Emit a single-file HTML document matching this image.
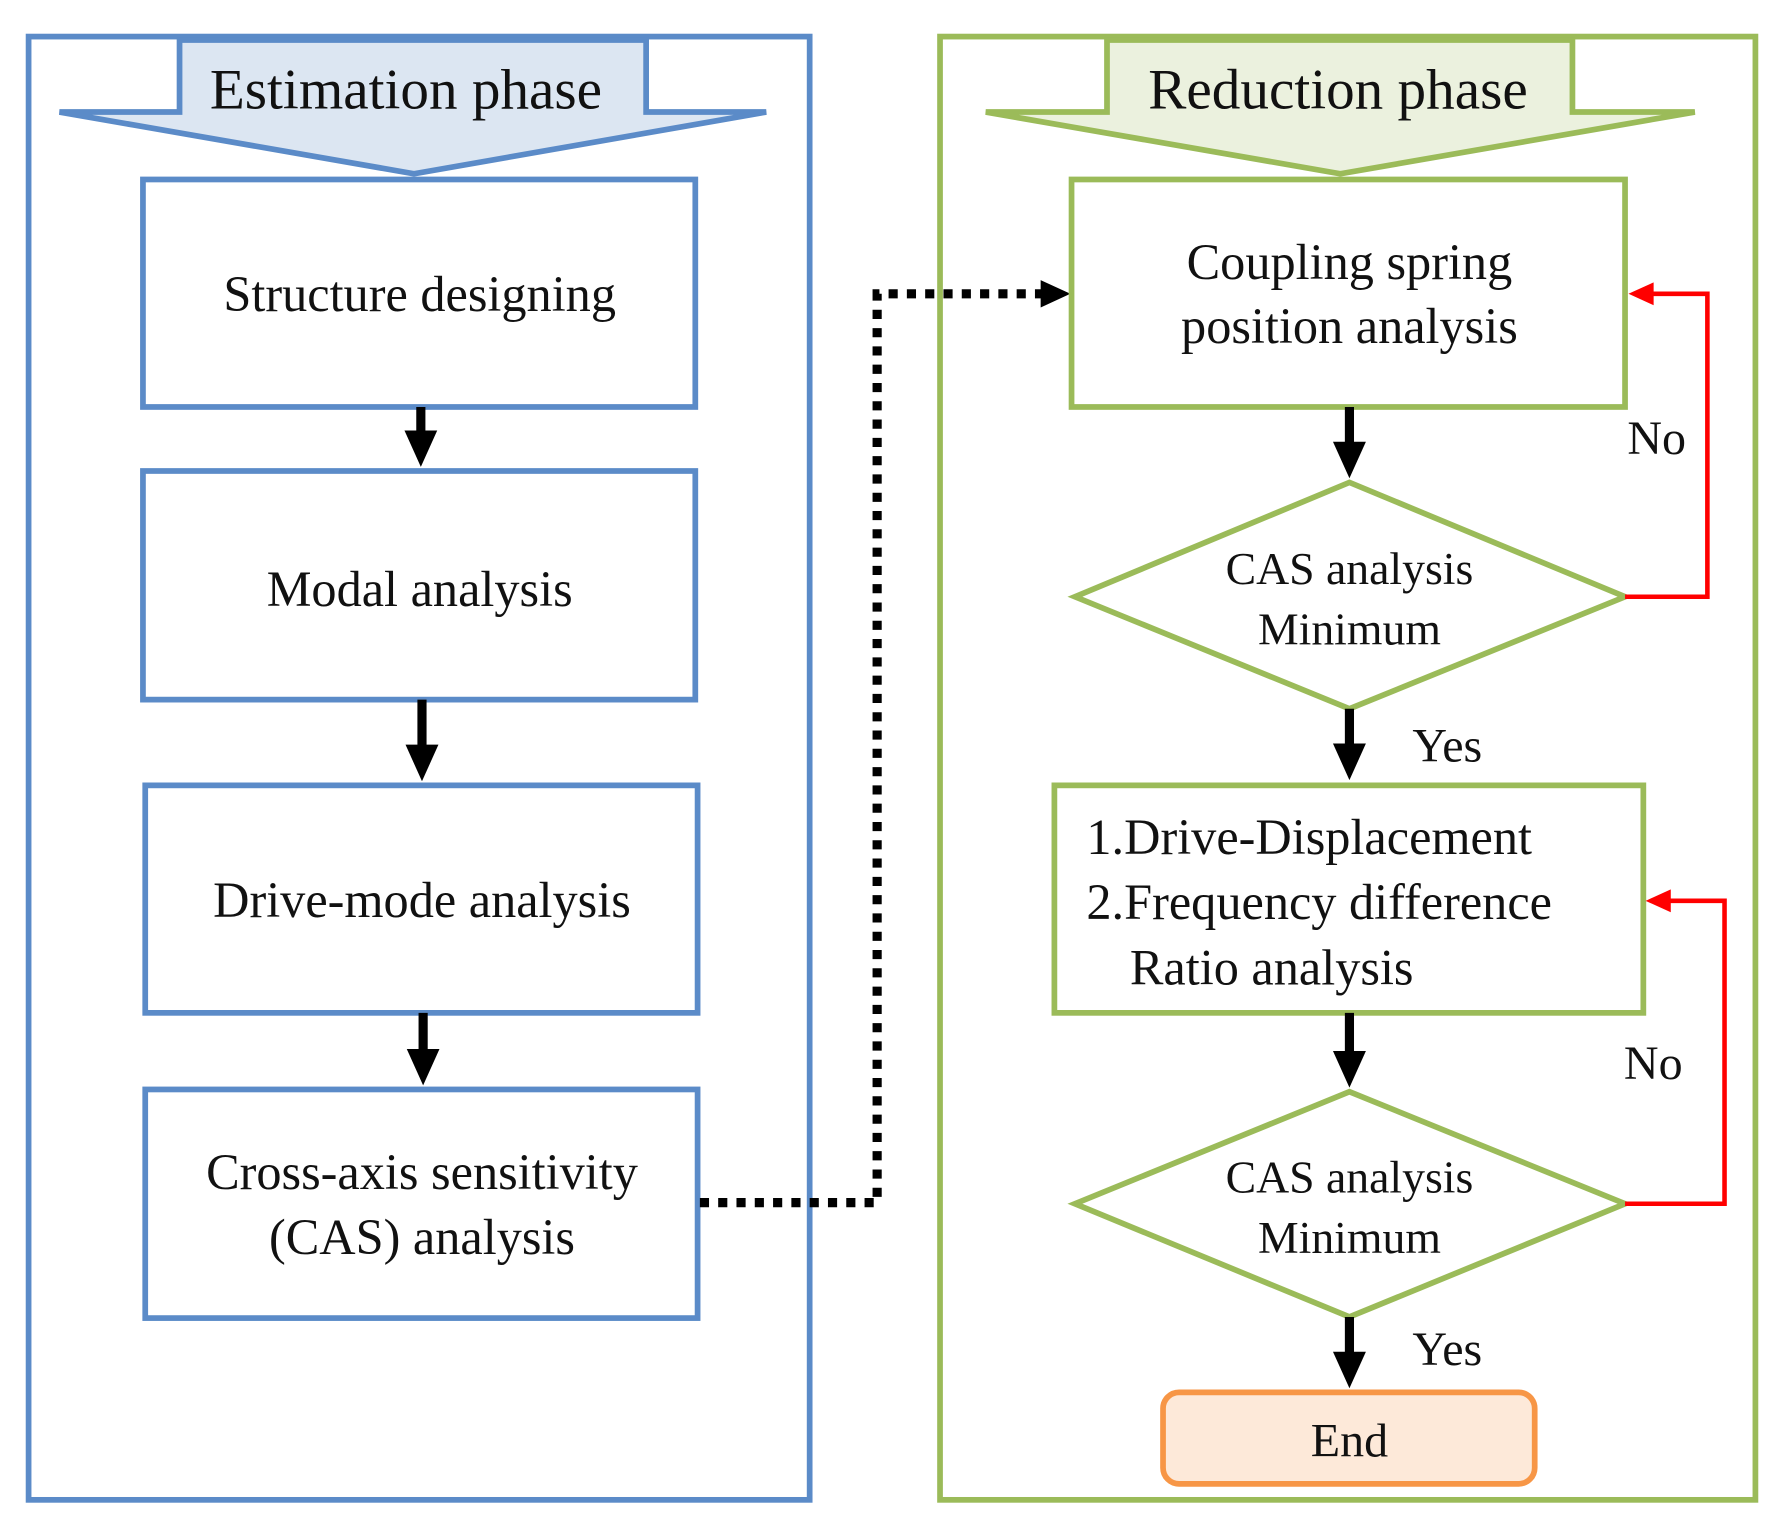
<!DOCTYPE html>
<html><head><meta charset="utf-8"><style>
html,body{margin:0;padding:0;background:#fff;}
svg{display:block;}
text{font-family:"Liberation Serif",serif;fill:#111;}
</style></head><body>
<svg width="1784" height="1525" viewBox="0 0 1560 1334" preserveAspectRatio="none" xmlns="http://www.w3.org/2000/svg">
<defs>
<marker id="ab" markerWidth="4" markerHeight="4" refX="2.2" refY="2" orient="auto" markerUnits="strokeWidth"><path d="M0,0.2 L4,2 L0,3.8 Z" fill="#000"/></marker>
</defs>
<!-- left panel -->
<rect x="25" y="32" width="683" height="1280" fill="none" stroke="#5b8bc8" stroke-width="5"/>
<polygon points="157,35 565,35 565,98 670,98 362,152 52,98 157,98" fill="#dce6f2" stroke="#5b8bc8" stroke-width="5" stroke-linejoin="miter"/>
<text x="355" y="95" font-size="50" text-anchor="middle">Estimation  phase</text>
<g fill="#fff" stroke="#5b8bc8" stroke-width="5">
<rect x="125" y="157" width="483" height="199"/>
<rect x="125" y="412" width="483" height="200"/>
<rect x="127" y="687" width="483" height="199"/>
<rect x="127" y="953" width="483" height="200"/>
</g>
<g font-size="44" text-anchor="middle">
<text x="367" y="272">Structure designing</text>
<text x="367" y="530">Modal analysis</text>
<text x="369" y="802">Drive-mode analysis</text>
<text x="369" y="1040">Cross-axis sensitivity</text>
<text x="369" y="1097">(CAS) analysis</text>
</g>
<g stroke="#000" stroke-width="8">
<line x1="368" y1="356" x2="368" y2="394" marker-end="url(#ab)"/>
<line x1="369" y1="612" x2="369" y2="669" marker-end="url(#ab)"/>
<line x1="370" y1="886" x2="370" y2="935" marker-end="url(#ab)"/>
</g>
<!-- dotted -->
<polyline points="612,1052 767,1052 767,257 912,257" fill="none" stroke="#000" stroke-width="8" stroke-dasharray="8,8"/>
<polygon points="910,245 936,257 910,269" fill="#000"/>
<!-- right panel -->
<rect x="822" y="32" width="713" height="1280" fill="none" stroke="#9bbb59" stroke-width="5"/>
<polygon points="968,35 1375,35 1375,98 1482,98 1172,152 862,98 968,98" fill="#ebf1de" stroke="#9bbb59" stroke-width="5"/>
<text x="1170" y="95" font-size="50" text-anchor="middle">Reduction  phase</text>
<rect x="937" y="157" width="484" height="199" fill="#fff" stroke="#9bbb59" stroke-width="5"/>
<g font-size="44" text-anchor="middle">
<text x="1180" y="244">Coupling spring</text>
<text x="1180" y="300">position analysis</text>
</g>
<polygon points="940,522 1180,422 1421,522 1180,620" fill="#fff" stroke="#9bbb59" stroke-width="5"/>
<rect x="922" y="687" width="515" height="199" fill="#fff" stroke="#9bbb59" stroke-width="5"/>
<polygon points="940,1053 1180,955 1421,1053 1180,1152" fill="#fff" stroke="#9bbb59" stroke-width="5"/>
<g font-size="40" text-anchor="middle">
<text x="1180" y="511">CAS analysis</text>
<text x="1180" y="564">Minimum</text>
<text x="1180" y="1043">CAS analysis</text>
<text x="1180" y="1096">Minimum</text>
</g>
<g font-size="44">
<text x="950" y="747">1.Drive-Displacement</text>
<text x="950" y="804">2.Frequency difference</text>
<text x="988" y="861">Ratio analysis</text>
</g>
<rect x="1017" y="1218" width="325" height="80" rx="14" fill="#fde9d9" stroke="#f79646" stroke-width="5"/>
<text x="1180" y="1274" font-size="42" text-anchor="middle">End</text>
<g stroke="#000" stroke-width="8">
<line x1="1180" y1="356" x2="1180" y2="404" marker-end="url(#ab)"/>
<line x1="1180" y1="620" x2="1180" y2="668" marker-end="url(#ab)"/>
<line x1="1180" y1="886" x2="1180" y2="937" marker-end="url(#ab)"/>
<line x1="1180" y1="1152" x2="1180" y2="1200" marker-end="url(#ab)"/>
</g>
<polyline points="1421,522 1493,522 1493,257 1436,257" fill="none" stroke="#f00" stroke-width="4"/>
<polygon points="1424,257 1446,247 1446,267" fill="#f00"/>
<polyline points="1421,1053 1508,1053 1508,788 1451,788" fill="none" stroke="#f00" stroke-width="4"/>
<polygon points="1439,788 1461,778 1461,798" fill="#f00"/>
<g font-size="42">
<text x="1423" y="397">No</text>
<text x="1420" y="944">No</text>
<text x="1235" y="666">Yes</text>
<text x="1235" y="1194">Yes</text>
</g>
</svg>
</body></html>
